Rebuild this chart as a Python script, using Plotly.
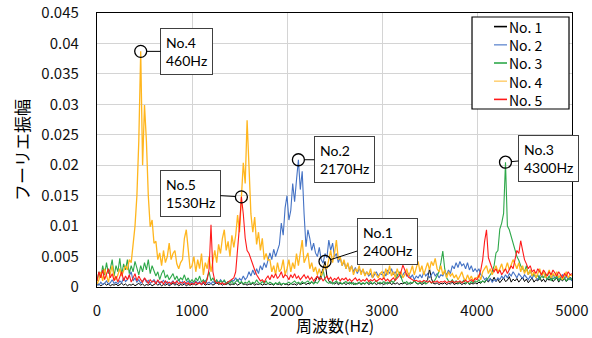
import plotly.graph_objects as go

# Frequency grid (Hz), 20 Hz step, 0..5000
freq_hz = list(range(0, 5001, 20))

# Fourier amplitudes, in units of 1e-4
no1 = [3,5,2,4,6,3,5,2,4,3, 5,2,4,6,3,5,2,4,3,5, 2,4,6,3,5,2,4,3,5,2, 4,6,3,5,2,4,3,5,2,4, 6,3,5,2,4,3,5,2,4,3,
       4,6,3,5,7,4,6,3,5,4, 6,3,5,7,4,6,3,5,4,6, 3,5,4,6,3,5,7,4,5,3, 5,4,6,3,5,4,6,3,5,4, 6,4,5,3,6,4,5,3,6,4,
       5,3,6,4,5,3,6,4,5,7, 4,6,5,8,6,10,18,12,22,30, 42,18,10,6,8,5,7,4,6,5, 7,4,6,5,8,4,6,5,7,4, 6,5,8,4,6,5,7,4,6,5,
       6,4,7,5,8,4,6,5,7,4, 6,5,8,4,6,5,7,10,6,5, 7,4,6,8,12,30,14,6,5,7, 4,6,5,7,4,6,5,8,4,6, 5,7,4,6,5,8,4,6,5,7,
       5,8,6,10,7,12,8,14,10,16, 9,13,7,12,15,9,11,17,8,13, 10,14,8,12,16,9,13,7,11,15, 8,12,10,17,9,13,8,14,11,16, 9,12,15,8,13,10,14,9,12,16,
       10]
no2 = [5,3,8,4,6,10,5,7,12,6, 8,5,10,7,15,9,12,18,25,10, 15,8,12,6,10,14,8,11,6,9, 12,7,10,5,8,11,6,9,4,7, 10,5,8,12,6,9,5,7,10,6,
       8,5,10,6,9,4,7,11,6,8, 5,9,6,10,7,12,8,10,6,9, 8,12,10,15,9,14,11,18,12,16, 25,18,28,20,30,22,35,28,40,32, 44,56,45,62,50,60,70,105,85,130,
       150,110,126,170,140,176,209,160,190,120, 66,94,80,60,72,56,50,65,45,39, 55,48,77,60,72,50,55,40,48,35, 42,30,38,28,35,25,32,22,30,25, 28,20,25,18,22,15,20,25,18,22,
       20,25,18,28,22,30,20,25,18,22, 15,20,25,18,22,15,20,12,18,15, 20,15,25,18,22,15,20,25,18,22, 15,20,18,25,20,28,22,35,30,40, 32,42,35,38,30,40,28,35,25,30,
       25,30,20,18,12,15,10,14,8,12, 10,15,12,18,14,20,15,22,18,25, 20,15,22,18,14,20,15,12,18,14, 20,15,12,18,22,15,20,12,18,14, 20,15,18,12,16,20,14,18,12,15,
       10]
no3 = [10,25,15,35,20,40,22,30,45,18, 35,25,47,20,38,28,45,22,35,25, 42,30,20,35,25,40,28,45,22,35, 28,18,25,12,22,28,15,20,12,18, 22,12,18,10,15,12,20,10,15,8,
       12,8,15,10,18,8,12,6,14,25, 10,15,8,12,6,10,7,12,5,9, 6,10,5,8,12,6,9,5,8,6, 10,5,8,6,12,7,5,9,6,10, 5,8,6,4,7,5,8,4,6,5,
       6,8,5,7,10,6,8,5,9,6, 8,10,6,9,5,8,6,10,15,28, 12,8,6,9,5,7,10,6,8,5, 7,9,6,8,5,7,4,6,8,5, 7,5,8,6,9,5,7,10,6,8,
       6,9,5,8,6,10,7,12,18,25, 15,8,6,9,5,8,6,10,7,5, 8,6,9,5,7,10,6,8,12,18, 25,40,59,30,15,10,8,12,7,10, 6,9,7,11,6,8,5,9,7,10,
       8,12,7,10,8,12,15,20,25,35, 56,60,95,105,121,205,100,94,82,70, 60,50,44,35,30,25,35,20,28,18, 22,15,20,12,18,15,22,12,18,10, 15,12,18,10,14,12,16,10,14,12,
       15]
no4 = [5,12,25,10,30,18,8,22,35,15, 12,20,30,18,25,35,28,45,40,70, 100,150,240,387,200,299,240,150,99,110, 72,75,45,56,35,60,40,50,72,45, 55,60,38,30,40,45,80,94,55,30,
       35,50,25,45,30,55,20,40,30,50, 25,45,60,40,70,55,80,94,60,75, 50,85,65,85,118,90,140,204,170,274, 198,120,90,115,70,90,60,80,45,55, 44,45,25,35,20,40,25,30,45,20,
       30,45,25,40,30,55,35,60,77,40, 50,56,30,40,25,33,20,30,18,25, 35,30,45,60,40,55,77,45,50,35, 45,30,40,25,35,20,30,25,35,20, 30,18,25,20,30,15,25,20,15,22,
       25,15,30,20,35,18,25,15,30,20, 25,15,20,30,18,25,35,20,30,42, 25,35,20,30,40,28,42,35,47,30, 25,35,20,28,15,25,18,22,15,20, 12,18,25,15,10,20,12,18,10,15,
       15,20,12,25,30,35,22,30,20,28, 35,25,30,38,25,30,40,28,35,45, 38,30,40,25,35,22,30,20,28,18, 25,15,22,30,18,25,15,20,28,15, 22,18,25,15,20,12,18,25,15,20,
       18]
no5 = [10,25,15,28,12,20,30,15,22,10, 18,8,15,25,10,18,12,20,8,15, 22,10,18,12,8,15,10,6,12,8, 10,5,12,7,9,5,10,6,8,5, 9,6,10,5,8,6,9,5,7,4,
       6,4,8,5,7,4,9,5,12,30, 102,25,10,6,8,5,7,4,6,8, 10,12,15,25,60,100,148,120,80,60, 55,45,35,28,20,15,10,12,8,14, 18,12,20,15,22,14,18,25,15,20,
       18,12,20,15,22,14,18,12,16,20, 14,18,12,16,10,14,18,12,15,10, 14,18,12,16,10,14,12,16,10,14, 12,15,10,13,9,12,15,10,13,9, 12,10,14,9,12,10,13,9,11,14,
       12,15,10,13,9,12,15,11,14,18, 25,36,28,20,16,14,12,10,11,9, 10,8,11,9,8,10,7,9,8,10, 7,9,8,10,7,9,8,10,7,9, 8,10,7,9,11,8,10,12,9,14,
       12,18,28,45,75,94,48,38,30,25, 30,22,28,20,25,30,22,28,35,30, 45,60,55,76,60,45,38,30,35,25, 28,22,30,25,20,28,22,18,25,20, 28,22,18,25,20,15,22,18,25,20,
       22]

series_names = ["No. 1", "No. 2", "No. 3", "No. 4", "No. 5"]
series_vals = [no1, no2, no3, no4, no5]
series_colors = ["#000000", "#4472C4", "#2EA84A", "#FFB61E", "#FF1A1A"]
legend_colors = ["#000000", "#7F9FD8", "#2EA84A", "#FFD27A", "#FF1A1A"]
series_widths = [1.0, 1.1, 1.1, 1.3, 1.1]

# Peak labels: (series index, label, window low Hz, window high Hz)
peak_labels = [
    (3, "No.4<br>460Hz", 400, 520),
    (4, "No.5<br>1530Hz", 1450, 1600),
    (1, "No.2<br>2170Hz", 2050, 2250),
    (0, "No.1<br>2400Hz", 2300, 2500),
    (2, "No.3<br>4300Hz", 4200, 4400),
]
box_offsets = [(46, 0), (-51, -3), (46, 0), (62, -20), (43, -4)]

fig = go.Figure()
for name, vals, col, w in zip(series_names, series_vals, series_colors, series_widths):
    fig.add_trace(go.Scatter(x=freq_hz, y=[v * 1e-4 for v in vals], mode="lines", name=name,
                             showlegend=False, line=dict(color=col, width=w)))

cx, cy = [], []
annotations = []
for (si, text, lo, hi), (ax, ay) in zip(peak_labels, box_offsets):
    vals = series_vals[si]
    best = max((i for i, f in enumerate(freq_hz) if lo <= f <= hi), key=lambda i: vals[i])
    px, py = freq_hz[best], vals[best] * 1e-4
    cx.append(px)
    cy.append(py)
    annotations.append(dict(x=px, y=py, xref="x", yref="y", text=text, showarrow=True,
                            ax=ax, ay=ay, arrowhead=0, arrowwidth=1, arrowcolor="#000000",
                            standoff=6, align="left", bgcolor="white", bordercolor="#404040",
                            borderwidth=1, borderpad=5,
                            font=dict(family="Lato", size=14, color="#000000")))

fig.add_trace(go.Scatter(x=cx, y=cy, mode="markers", showlegend=False, hoverinfo="skip",
                         marker=dict(symbol="circle-open", size=12, color="#000000",
                                     line=dict(width=1.3, color="#000000"))))

# Custom legend box (paper coordinates inside the plot area)
shapes = [dict(type="rect", xref="paper", yref="paper", x0=0.7895, x1=0.9937, y0=0.6496, y1=0.9854,
               fillcolor="white", line=dict(color="#000000", width=1.2), layer="above")]
leg_y = [0.9504, 0.8839, 0.8175, 0.7511, 0.6847]
for col, yy in zip(legend_colors, leg_y):
    shapes.append(dict(type="line", xref="paper", yref="paper", x0=0.8358, x1=0.8632, y0=yy, y1=yy,
                       line=dict(color=col, width=1.6), layer="above"))
annotations.append(dict(x=0.8653, y=0.8175, xref="paper", yref="paper", text="<br>".join(series_names),
                        showarrow=False, xanchor="left", yanchor="middle", align="left", borderpad=0,
                        font=dict(family="Noto Sans CJK JP", size=14, color="#000000")))

# Axis titles
annotations.append(dict(x=0.5, y=-0.1386, xref="paper", yref="paper", text="周波数(Hz)", showarrow=False,
                        xanchor="center", yanchor="middle", borderpad=0,
                        font=dict(family="Noto Sans CJK JP", size=16, color="#000000")))
annotations.append(dict(x=-0.16, y=0.5, xref="paper", yref="paper", text="フーリエ振幅", showarrow=False,
                        xanchor="center", yanchor="middle", textangle=-90, borderpad=0,
                        font=dict(family="Noto Sans CJK JP", size=17, color="#000000")))

tick_font = dict(family="Noto Sans CJK JP", size=15, color="#111111")
fig.update_layout(
    width=592, height=338,
    margin=dict(l=97, r=20, t=13, b=51),
    paper_bgcolor="white", plot_bgcolor="white",
    showlegend=False,
    annotations=annotations,
    shapes=shapes,
    xaxis=dict(range=[0, 5000], dtick=1000, tick0=0, showgrid=True, gridcolor="#D4D4D4", gridwidth=1,
               showline=True, mirror=True, linecolor="#000000", linewidth=1.3, zeroline=False,
               tickfont=tick_font, ticks="", ticklabelstandoff=10, automargin=False),
    yaxis=dict(range=[0, 0.045], dtick=0.005, tick0=0, showgrid=True, gridcolor="#D4D4D4", gridwidth=1,
               showline=True, mirror=True, linecolor="#000000", linewidth=1.3, zeroline=False,
               tickfont=tick_font, ticks="", ticklabelstandoff=14, tickformat="~g", automargin=False),
)

fig.write_html("out.html", config={"displayModeBar": False},
               post_script="document.body.style.margin='0';document.body.style.overflow='hidden';")
